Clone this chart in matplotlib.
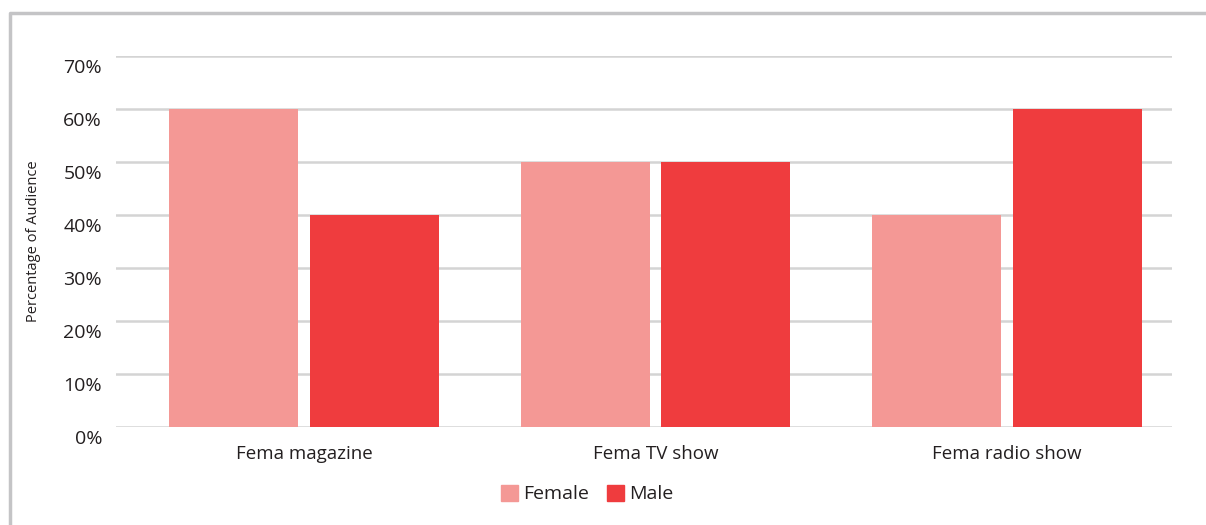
import matplotlib
matplotlib.use("Agg")
import matplotlib.pyplot as plt
import matplotlib.transforms as mtransforms
from matplotlib.lines import Line2D
from matplotlib.patches import Patch
import numpy as np

categories = ["Fema magazine", "Fema TV show", "Fema radio show"]
female = [60, 50, 40]
male = [40, 50, 60]
yticks = [0, 10, 20, 30, 40, 50, 60, 70]

FEMALE_COLOR = "#F49895"
MALE_COLOR = "#EF3C3E"
TEXT_COLOR = "#231F20"

plt.rcParams["font.family"] = ["Open Sans", "DejaVu Sans"]

W, H = 1206, 525
fig = plt.figure(figsize=(W / 100, H / 100), dpi=100)
ax = fig.add_axes([116 / W, 1 - 427 / H, (1172 - 116) / W, (427 - 56) / H])

x = np.arange(len(categories))
width = 0.367
offset = 0.2
ax.bar(x - offset, female, width, color=FEMALE_COLOR, label="Female", zorder=3)
ax.bar(x + offset, male, width, color=MALE_COLOR, label="Male", zorder=3)

ax.set_xlim(-0.535, 2.469)
ax.set_ylim(0, 70)
ax.set_yticks(yticks)
ax.set_yticklabels([f"{v}%" for v in yticks], fontsize=14, color=TEXT_COLOR)
ax.set_xticks(x)
ax.set_xticklabels(categories, fontsize=13.5, color=TEXT_COLOR)
ax.tick_params(axis="both", length=0)
ax.tick_params(axis="y", pad=10)
ax.tick_params(axis="x", pad=13)

# shift y tick labels slightly below their gridlines
shift = mtransforms.ScaledTranslation(0, -10 / 100, fig.dpi_scale_trans)
for lab in ax.get_yticklabels():
    lab.set_transform(lab.get_transform() + shift)

ax.grid(axis="y", color="#D4D4D4", linewidth=1.8, zorder=0)
ax.set_axisbelow(True)
for s in ax.spines.values():
    s.set_visible(False)

ax.set_ylabel("Percentage of Audience", fontsize=10.5, color=TEXT_COLOR)
ax.yaxis.set_label_coords(41 / W, 1 - 241 / H, transform=fig.transFigure)

handles = [Patch(color=FEMALE_COLOR, label="Female"), Patch(color=MALE_COLOR, label="Male")]
fig.legend(handles=handles, loc="center", bbox_to_anchor=(587 / W, 1 - 494 / H),
           ncol=2, frameon=False, fontsize=14, handlelength=0.9, handleheight=0.9,
           handletextpad=0.25, columnspacing=0.9, labelcolor=TEXT_COLOR)

# outer frame (top and left edges)
fig.add_artist(Line2D([10 / W, 10 / W, 1.0], [0.0, 1 - 13 / H, 1 - 13 / H],
                      transform=fig.transFigure, color="#C4C4C6", linewidth=2.5))

fig.savefig("out.png", dpi=100)
